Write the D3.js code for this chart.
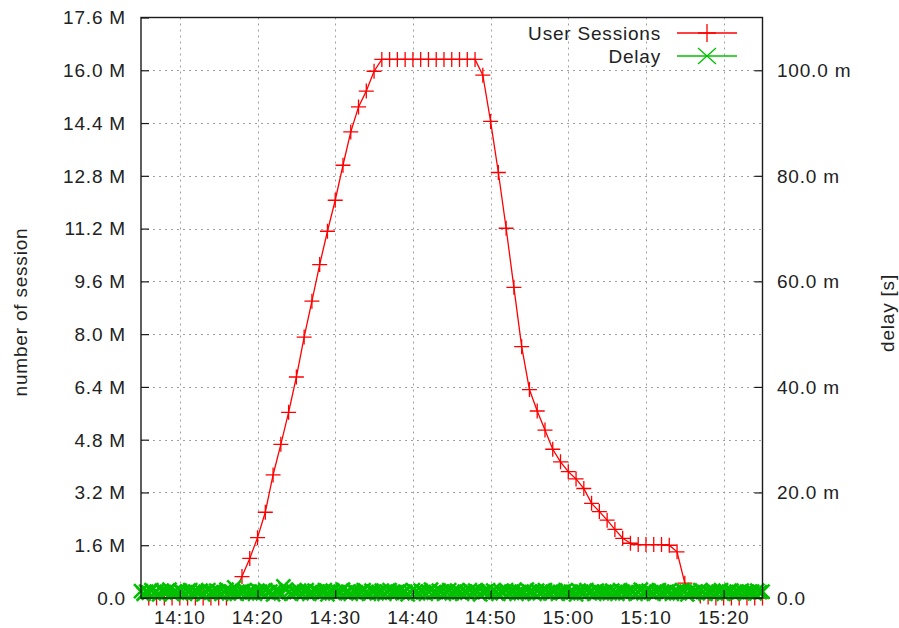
<!DOCTYPE html>
<html>
<head>
<meta charset="utf-8">
<script src="https://cdn.jsdelivr.net/npm/d3@7"></script>
<style>
    body { margin: 0; background: #fff; }
    svg text { font-family: "Liberation Sans", Arial, sans-serif; font-size: 19px; letter-spacing: 0.8px; fill: #222; }
</style>
</head>
<body>
<svg id="chart" width="899" height="628"></svg>
<script>
// user sessions, one value per minute starting 14:06 (millions)
sessionStart = "14:06"
sessions = [
    0, 0, 0, 0, 0, 0, 0, 0, 0, 0, 0, 0.15,
    0.65, 1.2, 1.83, 2.6, 3.73, 4.66, 5.63, 6.70, 7.91, 9.0,
    10.11, 11.12, 12.06, 13.12, 14.13, 14.89, 15.37, 15.97,
    16.33, 16.33, 16.33, 16.33, 16.33, 16.33, 16.33, 16.33, 16.33, 16.33, 16.33, 16.33, 16.33,
    15.85, 14.45, 12.9, 11.21, 9.42, 7.62, 6.32, 5.67, 5.09, 4.51,
    4.13, 3.83, 3.61, 3.32, 2.87, 2.62, 2.36, 2.08, 1.81, 1.66,
    1.62, 1.62, 1.62, 1.62, 1.6, 1.4, 0.45, 0.12, 0.06, 0.03,
    0, 0, 0, 0, 0, 0, 0
]

// delay, one value every 20 s starting 14:05 (milliseconds)
delayStart = "14:05"
delayStep = 20
delayMs = [
    1.3, 0.8, 1.2, 1.0, 1.5, 0.9, 1.2, 0.7, 1.4, 1.1, 1.2, 1.6, 0.8, 1.2, 1.0, 1.4, 1.1, 0.8, 1.2, 1.5,
    0.9, 1.2, 1.1, 1.4, 0.7, 1.2, 1.5, 1.0, 1.1, 1.4, 1.2, 0.8, 1.1, 1.6, 0.9, 1.2, 2.0, 0.8, 1.1, 1.3,
    1.5, 0.9, 1.2, 1.1, 0.8, 1.4, 1.2, 0.9, 1.5, 1.1, 1.2, 0.7, 1.4, 1.1, 0.9, 2.2, 1.6, 1.1, 0.8, 1.2,
    1.1, 1.4, 0.9, 1.2, 1.5, 0.8, 1.1, 1.4, 1.2, 0.9, 1.1, 1.5, 0.7, 1.2, 1.4, 0.9, 1.1, 1.2, 1.6, 1.0,
    1.2, 0.8, 1.4, 1.1, 0.9, 1.2, 1.5, 1.1, 0.8, 1.4, 1.2, 0.9, 1.1, 1.4, 0.8, 1.2, 1.5, 1.0, 1.1, 1.2,
    1.4, 0.9, 1.2, 0.7, 1.1, 1.5, 1.2, 0.9, 1.4, 1.1, 0.8, 1.2, 1.6, 1.0, 1.1, 1.4, 1.2, 0.8, 1.1, 1.5,
    0.9, 1.2, 1.4, 1.1, 0.8, 1.2, 1.0, 1.5, 1.1, 1.4, 1.2, 0.7, 1.1, 1.2, 1.5, 0.9, 1.4, 1.1, 0.8, 1.2,
    1.1, 1.5, 0.9, 1.2, 1.4, 0.8, 1.1, 1.2, 1.0, 1.6, 1.2, 1.1, 0.8, 1.4, 0.9, 1.2, 1.5, 1.1, 0.9, 1.2,
    1.4, 0.8, 1.1, 1.2, 1.5, 0.9, 1.2, 1.1, 0.7, 1.4, 1.2, 0.9, 1.5, 1.1, 1.2, 0.8, 1.4, 1.1, 0.9, 1.2,
    1.2, 0.9, 1.4, 1.1, 0.8, 1.5, 1.2, 0.9, 1.1, 1.4, 1.2, 0.8, 1.1, 1.6, 0.9, 1.2, 1.4, 1.1, 0.8, 1.2,
    1.5, 1.1, 0.9, 1.2, 1.4, 0.8, 1.2, 1.1, 0.9, 1.5, 1.2, 0.7, 1.4, 1.1, 1.2, 0.9, 1.5, 1.1, 0.8, 1.2,
    1.1, 1.4, 0.9, 1.2, 1.5, 0.8, 1.1, 1.2, 1.4, 0.9, 1.2, 1.1, 1.4, 0.9, 1.2, 1.1, 1.2, 0.9, 1.4, 1.1,
    1.2
]

timeRange = ["14:05", "15:25"]
timeTicks = ["14:10", "14:20", "14:30", "14:40", "14:50", "15:00", "15:10", "15:20"]
sessionTicks = [0, 1.6, 3.2, 4.8, 6.4, 8.0, 9.6, 11.2, 12.8, 14.4, 16.0, 17.6]
delayTicks = [0, 20, 40, 60, 80, 100]
seriesNames = ["User Sessions", "Delay"]

parseTime = function (s) {
    let p = s.split(":")
    return new Date(2013, 0, 1, +p[0], +p[1])
}

drawChart = function () {
    let svg = d3.select("#chart")
    let margin = {left: 141, right: 136.5, top: 17.5, bottom: 30}
    let width = 899 - margin.left - margin.right
    let height = 628 - margin.top - margin.bottom

    let x = d3.scaleTime()
              .domain(timeRange.map(parseTime))
              .range([margin.left, margin.left + width])
    let y = d3.scaleLinear()
              .domain([0, 17.6])
              .range([margin.top + height, margin.top])
    let y2 = d3.scaleLinear()
               .domain([0, 110])
               .range([margin.top + height, margin.top])

    let t0 = parseTime(sessionStart)
    let sessionData = sessions.map((v, i) => ({t: d3.timeMinute.offset(t0, i), v: v}))
    let d0 = parseTime(delayStart)
    let delayData = delayMs.map((v, i) => ({t: d3.timeSecond.offset(d0, i * delayStep), v: v}))

    // grid
    let grid = svg.append("g")
                  .attr("stroke", "#a0a0a0")
                  .attr("stroke-width", 1)
                  .attr("stroke-dasharray", "2,4")
    grid.selectAll(".gx")
        .data(timeTicks.map(parseTime))
        .enter()
        .append("line")
        .attr("x1", d => Math.round(x(d)) + 0.5)
        .attr("x2", d => Math.round(x(d)) + 0.5)
        .attr("y1", margin.top)
        .attr("y2", margin.top + height)
    grid.selectAll(".gy")
        .data(sessionTicks.slice(1, -1))
        .enter()
        .append("line")
        .attr("x1", margin.left)
        .attr("x2", margin.left + width)
        .attr("y1", d => Math.round(y(d)) + 0.5)
        .attr("y2", d => Math.round(y(d)) + 0.5)

    // user sessions, line + "+" points
    let red = "#ff0000"
    svg.append("path")
       .datum(sessionData)
       .attr("fill", "none")
       .attr("stroke", red)
       .attr("stroke-width", 1.3)
       .attr("d", d3.line().x(d => x(d.t)).y(d => y(d.v)))
    svg.append("g")
       .selectAll("path")
       .data(sessionData)
       .enter()
       .append("path")
       .attr("fill", "none")
       .attr("stroke", red)
       .attr("stroke-width", 1.3)
       .attr("d", d => {
           let cx = x(d.t), cy = y(d.v), s = 7.5
           return "M" + (cx - s) + "," + cy + "H" + (cx + s) + "M" + cx + "," + (cy - s) + "V" + (cy + s)
       })

    // delay, line + "x" points (drawn on top, dense so it reads as a band)
    let green = "#00c000"
    svg.append("path")
       .datum(delayData)
       .attr("fill", "none")
       .attr("stroke", green)
       .attr("stroke-width", 2)
       .attr("d", d3.line().x(d => x(d.t)).y(d => y2(d.v)))
    svg.append("g")
       .selectAll("path")
       .data(delayData)
       .enter()
       .append("path")
       .attr("fill", "none")
       .attr("stroke", green)
       .attr("stroke-width", 2.6)
       .attr("d", d => {
           let cx = x(d.t), cy = y2(d.v), s = 7
           return "M" + (cx - s) + "," + (cy - s) + "L" + (cx + s) + "," + (cy + s) +
                  "M" + (cx - s) + "," + (cy + s) + "L" + (cx + s) + "," + (cy - s)
       })

    // border
    svg.append("rect")
       .attr("x", margin.left)
       .attr("y", margin.top)
       .attr("width", width)
       .attr("height", height)
       .attr("fill", "none")
       .attr("stroke", "#1a1a1a")
       .attr("stroke-width", 1.4)

    // axes, ticks pointing inwards
    let yAxis = svg.append("g")
                   .attr("transform", "translate(" + margin.left + ",0)")
                   .call(d3.axisRight(y).tickValues(sessionTicks).tickSize(8).tickFormat(""))
    let y2Axis = svg.append("g")
                    .attr("transform", "translate(" + (margin.left + width) + ",0)")
                    .call(d3.axisLeft(y2).tickValues(delayTicks).tickSize(8).tickFormat(""))
    let xAxis = svg.append("g")
                   .attr("transform", "translate(0," + (margin.top + height) + ")")
                   .call(d3.axisTop(x).tickValues(timeTicks.map(parseTime)).tickSize(8).tickFormat(""))
    ;[yAxis, y2Axis, xAxis].forEach(a => {
        a.select(".domain").remove()
        a.selectAll("line").attr("stroke", "#1a1a1a").attr("stroke-width", 1.2)
    })

    // tick labels
    svg.append("g")
       .selectAll("text")
       .data(sessionTicks)
       .enter()
       .append("text")
       .attr("x", 126)
       .attr("y", d => y(d))
       .attr("dy", "0.36em")
       .attr("text-anchor", "end")
       .text(d => d === 0 ? "0.0" : d.toFixed(1) + " M")
    svg.append("g")
       .selectAll("text")
       .data(delayTicks)
       .enter()
       .append("text")
       .attr("x", 777)
       .attr("y", d => y2(d))
       .attr("dy", "0.36em")
       .text(d => d === 0 ? "0.0" : d.toFixed(1) + " m")
    svg.append("g")
       .selectAll("text")
       .data(timeTicks)
       .enter()
       .append("text")
       .attr("x", d => x(parseTime(d)))
       .attr("y", 624)
       .attr("text-anchor", "middle")
       .text(d => d)

    // axis titles
    svg.append("text")
       .attr("transform", "translate(27,312) rotate(-90)")
       .attr("text-anchor", "middle")
       .text("number of session")
    svg.append("text")
       .attr("transform", "translate(894,313) rotate(-90)")
       .attr("text-anchor", "middle")
       .text("delay [s]")

    // legend
    let legend = svg.append("g")
    let colors = [red, green]
    seriesNames.forEach((name, i) => {
        let ly = 33 + i * 23
        legend.append("text")
              .attr("x", 661)
              .attr("y", ly)
              .attr("dy", "0.36em")
              .attr("text-anchor", "end")
              .text(name)
        legend.append("line")
              .attr("x1", 677)
              .attr("x2", 737)
              .attr("y1", ly)
              .attr("y2", ly)
              .attr("stroke", colors[i])
              .attr("stroke-width", 1.3)
        let s = 9
        legend.append("path")
              .attr("fill", "none")
              .attr("stroke", colors[i])
              .attr("stroke-width", 1.3)
              .attr("d", i === 0
                  ? "M" + (707 - s) + "," + ly + "H" + (707 + s) + "M707," + (ly - s) + "V" + (ly + s)
                  : "M" + (707 - s) + "," + (ly - 8) + "L" + (707 + s) + "," + (ly + 8) +
                    "M" + (707 - s) + "," + (ly + 8) + "L" + (707 + s) + "," + (ly - 8))
    })
}

drawChart()
</script>
</body>
</html>
